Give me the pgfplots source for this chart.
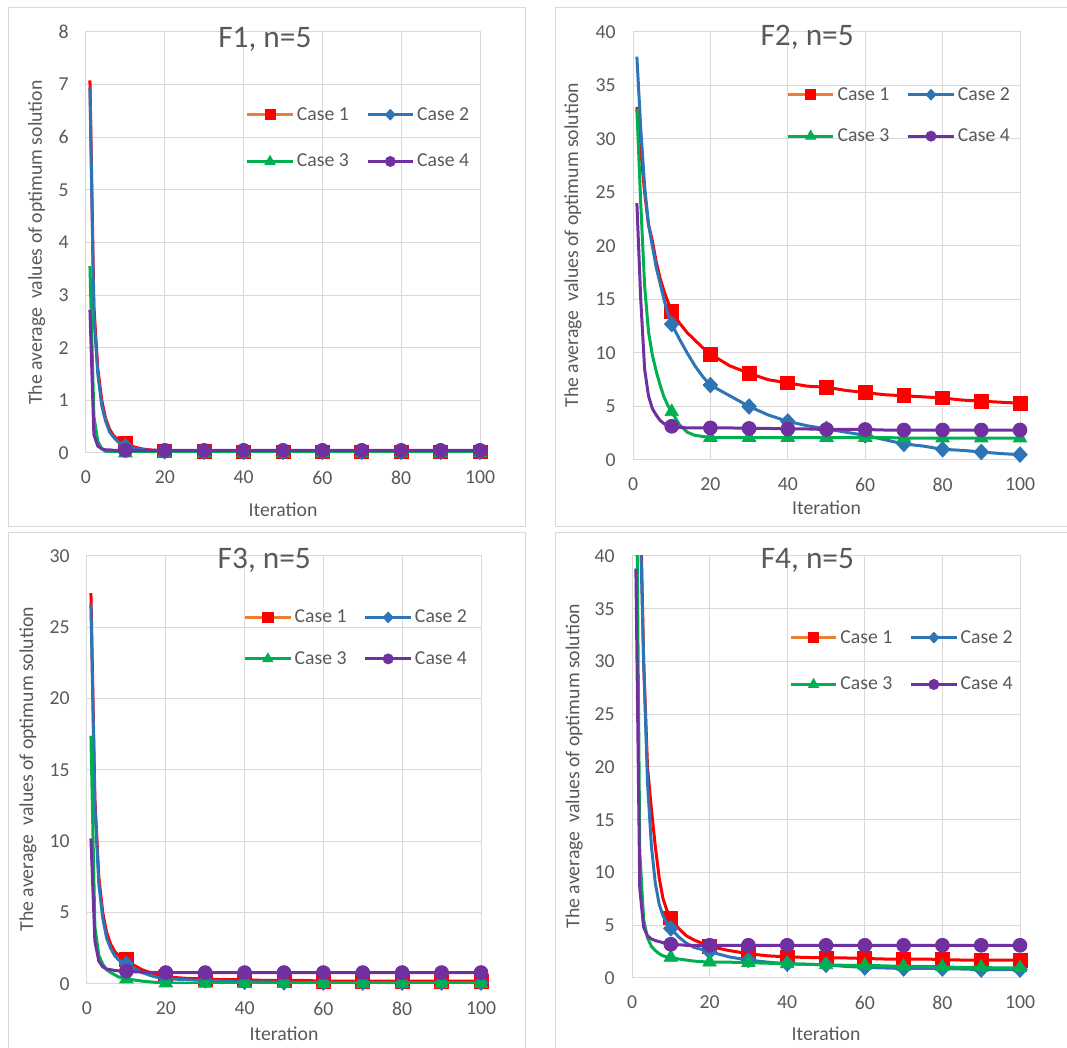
\documentclass[border=0pt]{standalone}
\usepackage{fontspec}
\setmainfont{Carlito}
\usepackage{pgfplots}
\usepackage{pgfplotstable}
\pgfplotsset{compat=1.18}

\definecolor{txtgrey}{HTML}{595959}
\definecolor{gridgrey}{HTML}{D9D9D9}
\definecolor{c1}{HTML}{FF0000}
\definecolor{c1leg}{HTML}{ED7D31}
\definecolor{c2}{HTML}{2E75B6}
\definecolor{c3}{HTML}{00B050}
\definecolor{c4}{HTML}{7030A0}

% columns: iteration, case 1 .. case 4
\pgfplotstableread{
x c1 c2 c3 c4
1 7.08 6.95 3.55 2.72
2 2.8 2.6 0.7 0.35
3 1.6 1.5 0.22 0.13
4 1.0 0.9 0.08 0.08
5 0.65 0.6 0.03 0.06
6 0.45 0.4 0.01 0.06
7 0.33 0.3 0.01 0.05
8 0.26 0.22 0 0.05
9 0.22 0.17 0 0.05
10 0.18 0.13 0 0.05
12 0.12 0.09 0 0.05
14 0.08 0.07 0 0.05
16 0.06 0.05 0 0.05
18 0.05 0.04 0 0.05
20 0.04 0.03 0 0.05
25 0.03 0.03 0 0.05
30 0.03 0.02 0 0.05
35 0.02 0.02 0 0.05
40 0.02 0.02 0 0.05
45 0.02 0.02 0 0.05
50 0.02 0.02 0 0.05
55 0.02 0.02 0 0.05
60 0.02 0.02 0 0.05
65 0.02 0.02 0 0.05
70 0.02 0.02 0 0.05
75 0.02 0.02 0 0.05
80 0.02 0.02 0 0.05
85 0.02 0.02 0 0.05
90 0.02 0.02 0 0.05
95 0.02 0.02 0 0.05
100 0.02 0.02 0 0.05
}\dataA

\pgfplotstableread{
x c1 c2 c3 c4
1 33 37.7 32.8 24
2 29 31 24 15
3 25 25.6 16.3 8.5
4 22 22 12 6
5 20.5 20 9.8 4.8
6 18.5 18 8.3 4.2
7 17 16.5 7 3.7
8 15.8 15 5.9 3.4
9 14.8 13.7 5.1 3.25
10 13.9 12.7 4.5 3.15
12 12.8 11.3 3.3 3.05
14 11.9 10 2.6 3.0
16 11.2 8.8 2.3 3.0
18 10.5 7.8 2.2 3.0
20 9.9 7.0 2.1 3.0
25 8.8 6.0 2.1 3.0
30 8.1 5.0 2.1 2.95
35 7.5 4.2 2.1 2.95
40 7.2 3.6 2.1 2.9
45 6.9 3.2 2.1 2.9
50 6.8 2.9 2.1 2.85
55 6.5 2.6 2.1 2.85
60 6.3 2.3 2.1 2.85
65 6.1 1.9 2.1 2.8
70 6.0 1.5 2.05 2.8
75 5.9 1.3 2.05 2.8
80 5.8 1.0 2.05 2.8
85 5.6 0.9 2.05 2.8
90 5.5 0.75 2.05 2.8
95 5.4 0.6 2.05 2.8
100 5.3 0.5 2.05 2.8
}\dataB

\pgfplotstableread{
x c1 c2 c3 c4
1 27.4 26.6 17.4 10.2
2 13 12.5 4.0 3.0
3 7.5 7.0 2.0 1.6
4 5.0 4.6 1.4 1.2
5 3.6 3.2 1.0 1.05
6 2.8 2.5 0.8 1.0
7 2.3 2.0 0.65 0.95
8 2.0 1.7 0.5 0.92
9 1.8 1.5 0.42 0.9
10 1.7 1.4 0.35 0.9
12 1.3 1.1 0.28 0.86
14 1.0 0.8 0.2 0.83
16 0.8 0.6 0.15 0.82
18 0.65 0.45 0.1 0.8
20 0.5 0.38 0.07 0.8
25 0.4 0.3 0.05 0.8
30 0.35 0.25 0.04 0.8
35 0.3 0.2 0.03 0.8
40 0.3 0.15 0.03 0.8
45 0.25 0.15 0.02 0.8
50 0.25 0.12 0.02 0.8
55 0.25 0.12 0.02 0.8
60 0.2 0.1 0.02 0.8
65 0.2 0.1 0.02 0.8
70 0.2 0.1 0.02 0.8
75 0.2 0.1 0.02 0.8
80 0.2 0.1 0.02 0.8
85 0.2 0.1 0.02 0.8
90 0.2 0.1 0.02 0.8
95 0.2 0.1 0.02 0.8
100 0.2 0.1 0.02 0.8
}\dataC

\pgfplotstableread{
x c1 c2 c3 c4
1 70 75 55 38.8
2 48 45 12 8.5
3 30 30 5.5 4.8
4 20 18.5 3.8 4.0
5 16 12.5 3.0 3.7
6 12.5 9.0 2.6 3.55
7 9.5 7.0 2.3 3.45
8 7.5 5.9 2.1 3.35
9 6.4 5.2 2.0 3.25
10 5.7 4.7 1.95 3.2
12 4.7 3.9 1.8 3.15
14 4.0 3.3 1.7 3.1
16 3.6 2.9 1.6 3.1
18 3.3 2.7 1.55 3.1
20 3.0 2.5 1.5 3.1
25 2.6 2.0 1.5 3.1
30 2.3 1.7 1.45 3.1
35 2.1 1.5 1.4 3.1
40 2.0 1.35 1.35 3.1
45 1.95 1.3 1.3 3.1
50 1.9 1.25 1.25 3.1
55 1.9 1.1 1.2 3.1
60 1.85 1.0 1.2 3.1
65 1.8 0.95 1.15 3.1
70 1.8 0.9 1.1 3.1
75 1.8 0.9 1.1 3.1
80 1.75 0.9 1.05 3.1
85 1.7 0.85 1.0 3.1
90 1.7 0.8 1.0 3.1
95 1.7 0.8 0.95 3.1
100 1.7 0.8 0.95 3.1
}\dataD

% legend symbol: line with one mark in the middle
\newcommand{\legimg}[4]{%
  \draw[#1, line width=2.25pt] (0pt,0pt) -- (34pt,0pt);
  \draw[#2, line width=0.6pt, mark=#3, mark size=#4, mark indices={1}]
    plot coordinates {(17pt,0pt)};}

\pgfplotsset{
  excel/.style={
    scale only axis,
    xmin=0, xmax=100, ymin=0,
    xtick={0,20,...,100},
    grid=major,
    grid style={draw=gridgrey, line width=0.75pt},
    axis line style={draw=gridgrey, line width=0.75pt},
    major tick length=0pt,
    tick label style={font=\fontsize{14.8}{17}\selectfont, text=txtgrey},
    /pgf/number format/assume math mode=true,
    xticklabel style={yshift=-10pt},
    yticklabel style={xshift=-9.5pt},
    label style={font=\fontsize{14.8}{17}\selectfont, text=txtgrey},
    title style={font=\fontsize{23.5}{28}\selectfont, text=txtgrey, anchor=base},
    xlabel={Iteration},
    ylabel={The average~ values of optimum solution},
    clip mode=individual,
    legend columns=2,
    legend cell align=left,
    legend style={draw=none, fill=none, inner sep=0pt, anchor=west,
      font=\fontsize{14.8}{17}\selectfont, text=txtgrey,
      nodes={inner sep=2pt},
      /tikz/every even column/.append style={column sep=11pt}},
    every axis plot/.append style={line width=2.25pt,
      mark options={solid, line width=0.6pt}},
  },
  % markers only every 10 iterations
  tenths/.style={only marks, x filter/.expression={mod(x,10)==0 ? x : nan}},
  case1/.style={color=c1, mark=square*, mark size=5.2pt,
    legend image code/.code={\legimg{c1leg}{c1}{square*}{3.8pt}}},
  case2/.style={color=c2, mark=diamond*, mark size=5.8pt,
    mark options={solid, line width=0.6pt, xscale=1.25},
    legend image code/.code={\legimg{c2}{c2}{diamond*}{4pt}}},
  case3/.style={color=c3, mark=triangle*, mark size=5.8pt,
    legend image code/.code={\legimg{c3}{c3}{triangle*}{4.4pt}}},
  case4/.style={color=c4, mark=*, mark size=5.2pt,
    legend image code/.code={\legimg{c4}{c4}{*}{3.8pt}}},
}

\newcommand{\fourcases}[1]{%
  \addplot[c1, forget plot] table[x=x, y=c1] {#1};
  \addplot[case1, tenths] table[x=x, y=c1] {#1};
  \addplot[c2, forget plot] table[x=x, y=c2] {#1};
  \addplot[case2, tenths] table[x=x, y=c2] {#1};
  \addplot[c3, forget plot] table[x=x, y=c3] {#1};
  \addplot[case3, tenths] table[x=x, y=c3] {#1};
  \addplot[c4, forget plot] table[x=x, y=c4] {#1};
  \addplot[case4, tenths] table[x=x, y=c4] {#1};
  \legend{Case 1, Case 2, Case 3, Case 4}}

\begin{document}
\begin{tikzpicture}
\useasboundingbox (0pt,0pt) rectangle (800.25pt,786pt);
% chart area frames
\draw[gridgrey, line width=0.75pt] (6pt,780pt) rectangle (393.75pt,390.75pt);
\draw[gridgrey, line width=0.75pt] (416.25pt,780pt) rectangle (810pt,390.75pt);
\draw[gridgrey, line width=0.75pt] (6pt,386.25pt) rectangle (393.75pt,-8pt);
\draw[gridgrey, line width=0.75pt] (416.25pt,386.25pt) rectangle (810pt,-8pt);

\begin{axis}[excel, at={(64.5pt,446.25pt)}, anchor=south west,
  width=295.5pt, height=315.75pt, ymax=8, ytick={0,1,...,8},
  title={F1, n=5}, title style={at={(axis description cs:0.454,0.945)}},
  ylabel style={at={(axis description cs:-0.125,0.5)}, anchor=center},
  xlabel style={at={(axis description cs:0.5,-0.151)}, anchor=base},
  legend style={at={(axis description cs:0.405,0.748)}, row sep=20pt}]
\fourcases{\dataA}
\end{axis}

\begin{axis}[excel, at={(474.75pt,441pt)}, anchor=south west,
  width=290.25pt, height=321pt, ymax=40, ytick={0,5,...,40},
  title={F2, n=5}, title style={at={(axis description cs:0.45,0.949)}},
  ylabel style={at={(axis description cs:-0.155,0.502)}, anchor=center},
  xlabel style={at={(axis description cs:0.5,-0.1285)}, anchor=base},
  legend style={at={(axis description cs:0.396,0.805)}, row sep=16pt}]
\fourcases{\dataB}
\end{axis}

\begin{axis}[excel, at={(65.25pt,48pt)}, anchor=south west,
  width=295.5pt, height=321pt, ymax=30, ytick={0,5,...,30},
  title={F3, n=5}, title style={at={(axis description cs:0.45,0.952)}},
  ylabel style={at={(axis description cs:-0.15,0.502)}, anchor=center},
  xlabel style={at={(axis description cs:0.5,-0.131)}, anchor=base},
  legend style={at={(axis description cs:0.397,0.808)}, row sep=16pt}]
\fourcases{\dataC}
\end{axis}

\begin{axis}[excel, at={(474pt,52.5pt)}, anchor=south west,
  width=291pt, height=316.5pt, ymax=40, ytick={0,5,...,40},
  title={F4, n=5}, title style={at={(axis description cs:0.452,0.951)}},
  ylabel style={at={(axis description cs:-0.149,0.502)}, anchor=center},
  xlabel style={at={(axis description cs:0.5,-0.149)}, anchor=base},
  legend style={at={(axis description cs:0.405,0.751)}, row sep=20pt}]
\fourcases{\dataD}
\end{axis}
\end{tikzpicture}
\end{document}
